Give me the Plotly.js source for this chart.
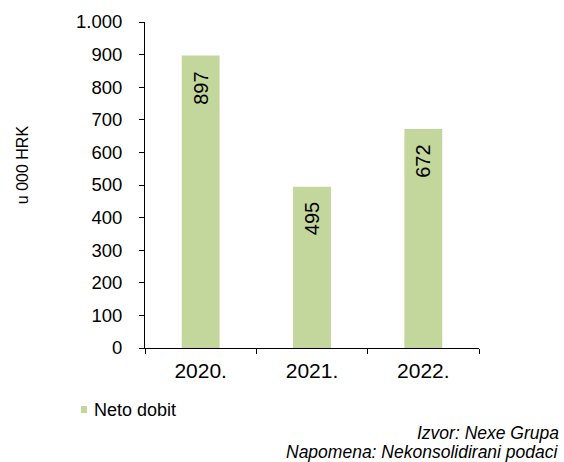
<!DOCTYPE html>
<html>
<head>
<meta charset="utf-8">
<script src="https://cdn.plot.ly/plotly-3.0.1.min.js"></script>
<style>html,body{margin:0;padding:0;background:#fff;}#chart{width:564px;height:462px;}</style>
</head>
<body>
<div id="chart"></div>
<script>
var categories = ['2020.', '2021.', '2022.'];
var netoDobit = [897, 495, 672];
var seriesName = 'Neto dobit';
var yTickVals = [0, 100, 200, 300, 400, 500, 600, 700, 800, 900, 1000];
var yTickText = ['0', '100', '200', '300', '400', '500', '600', '700', '800', '900', '1.000'];
var yTitle = 'u 000 HRK';
var sourceLines = ['Izvor: Nexe Grupa', 'Napomena: Nekonsolidirani podaci'];

var FONT = 'Liberation Sans, Arial, sans-serif';
var BAR_COLOR = '#c3d69b';

var trace = {
  type: 'bar',
  x: categories,
  y: netoDobit,
  name: seriesName,
  marker: {color: BAR_COLOR},
  width: 0.34,
  showlegend: false,
  hoverinfo: 'none'
};

var annotations = [];
// value labels inside bars, rotated, near the top (x = category index)
categories.forEach(function (c, i) {
  annotations.push({
    xref: 'x', yref: 'y', x: i, y: netoDobit[i],
    text: String(netoDobit[i]), textangle: -90,
    xanchor: 'center', yanchor: 'top', yshift: -14,
    showarrow: false, font: {family: FONT, size: 20, color: '#000'}
  });
});
// y axis title
annotations.push({
  xref: 'paper', yref: 'paper', x: -0.368, y: 0.561,
  xanchor: 'center', yanchor: 'middle', textangle: -90,
  text: yTitle, showarrow: false, font: {family: FONT, size: 16, color: '#000'}
});
// legend text
annotations.push({
  xref: 'paper', yref: 'paper', x: -0.1587, y: -0.1887,
  xanchor: 'left', yanchor: 'middle',
  text: seriesName, showarrow: false, font: {family: FONT, size: 18, color: '#000'}
});
// source notes
annotations.push({
  xref: 'paper', yref: 'paper', x: 1.2455, y: -0.262, xanchor: 'right', yanchor: 'middle',
  text: '<i>' + sourceLines[0] + '</i>', showarrow: false, font: {family: FONT, size: 17.5, color: '#000'}
});
annotations.push({
  xref: 'paper', yref: 'paper', x: 1.2455, y: -0.32, xanchor: 'right', yanchor: 'middle',
  text: '<i>' + sourceLines[1] + '</i>', showarrow: false, font: {family: FONT, size: 17.5, color: '#000'}
});

var layout = {
  width: 564, height: 462,
  margin: {l: 145, r: 85, t: 22, b: 114},
  paper_bgcolor: '#fff', plot_bgcolor: '#fff',
  font: {family: FONT, color: '#000'},
  showlegend: false,
  xaxis: {
    type: 'category',
    range: [-0.5, categories.length - 0.5],
    showline: true, linecolor: '#000', linewidth: 1,
    ticks: 'outside', ticklen: 5, tickcolor: '#000', tickson: 'boundaries',
    tickangle: 0, ticklabelstandoff: 4,
    tickfont: {size: 21}, showgrid: false, zeroline: false
  },
  yaxis: {
    range: [0, 1000], tickvals: yTickVals, ticktext: yTickText,
    showline: true, linecolor: '#000', linewidth: 1,
    ticks: 'outside', ticklen: 5, tickcolor: '#000',
    ticklabelstandoff: 13,
    tickfont: {size: 18.5}, showgrid: false, zeroline: false
  },
  shapes: [
    {type: 'rect', xref: 'paper', yref: 'paper',
     x0: -0.1916, x1: -0.1737, y0: -0.1994, y1: -0.1779,
     fillcolor: BAR_COLOR, line: {width: 0}}
  ],
  annotations: annotations
};

Plotly.newPlot('chart', [trace], layout, {displayModeBar: false, staticPlot: true});
</script>
</body>
</html>
